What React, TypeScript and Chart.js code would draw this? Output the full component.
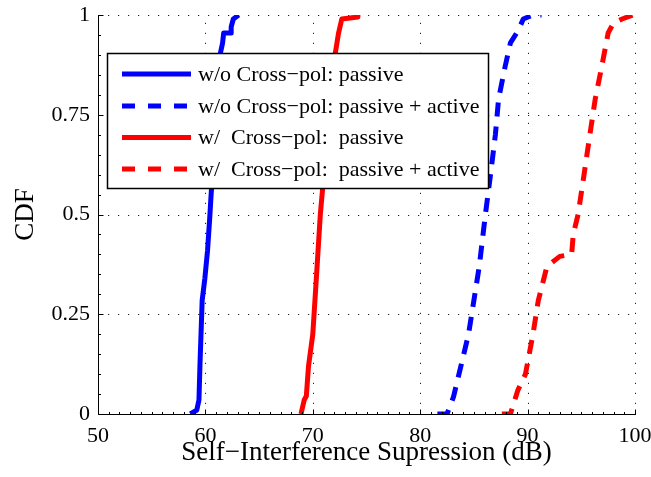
import React, { useEffect, useRef } from "react";
import { Chart, registerables } from "chart.js";

Chart.register(...registerables);

// ---- Data (x = suppression dB, y = CDF) ----
const blueSolidX = [58.6, 59.2, 59.4, 59.5, 59.7, 59.95, 60.2, 60.4, 60.5, 60.8, 61.1, 61.4, 61.6, 61.7, 62.4, 62.4, 62.6, 63.1];
const blueSolidY = [0, 0.01, 0.035, 0.128, 0.285, 0.34, 0.41, 0.49, 0.536, 0.66, 0.8, 0.905, 0.93, 0.955, 0.955, 0.97, 0.99, 1.0];

const blueDashX = [81.6, 82.5, 83.1, 83.7, 84.5, 85.0, 85.5, 85.85, 86.07, 86.5, 87.0, 87.3, 87.9, 88.4, 89.1, 89.6, 90.5, 91.3];
const blueDashY = [0, 0, 0.043, 0.11, 0.2, 0.285, 0.37, 0.45, 0.5, 0.59, 0.7, 0.79, 0.87, 0.93, 0.96, 0.99, 1.0, 1.0];

const redSolidX = [68.9, 69.2, 69.4, 69.6, 70.0, 70.4, 70.7, 70.9, 71.4, 71.8, 72.1, 72.4, 72.7, 74.2, 74.2];
const redSolidY = [0, 0.035, 0.045, 0.12, 0.2, 0.37, 0.5, 0.56, 0.7, 0.82, 0.905, 0.955, 0.99, 0.995, 1.0];

const redDashX = [87.6, 88.4, 89.1, 89.8, 90.5, 91.0, 91.8, 93.0, 94.1, 94.25, 94.7, 95.2, 95.8, 96.3, 96.9, 97.5, 98.0, 98.8, 99.8];
const redDashY = [0, 0, 0.06, 0.1, 0.2, 0.285, 0.37, 0.395, 0.4, 0.45, 0.5, 0.59, 0.7, 0.79, 0.87, 0.955, 0.98, 0.99, 1.0];

const seriesLabels = [
  "w/o Cross\u2212pol: passive",
  "w/o Cross\u2212pol: passive + active",
  "w/  Cross\u2212pol:  passive",
  "w/  Cross\u2212pol:  passive + active",
];
const xTicks = [50, 60, 70, 80, 90, 100];
const yTicks = [0, 0.25, 0.5, 0.75, 1];
const xTitle = "Self\u2212Interference Supression (dB)";
const yTitle = "CDF";

const BLUE = "#0000ff";
const RED = "#ff0000";
const FONT = "'Liberation Serif', 'Times New Roman', serif";

const toPts = (xs: number[], ys: number[]) => xs.map((x, i) => ({ x, y: ys[i] }));

const zeroPad = (s: any) => {
  s.paddingTop = 0;
  s.paddingBottom = 0;
  s.paddingLeft = 0;
  s.paddingRight = 0;
};

const axesPlugin = {
  id: "matlabAxes",
  beforeDatasetsDraw(chart: any) {
    const { ctx, chartArea: a, scales } = chart;
    const xs = scales.x, ys = scales.y;
    ctx.save();
    ctx.strokeStyle = "#222";
    ctx.lineWidth = 1;
    ctx.setLineDash([1.2, 8.8]);
    for (const v of xTicks) {
      if (v === 50) continue;
      const px = Math.round(xs.getPixelForValue(v)) + 0.5;
      ctx.beginPath();
      ctx.moveTo(px, a.bottom);
      ctx.lineTo(px, a.top);
      ctx.stroke();
    }
    for (const v of yTicks) {
      if (v === 0) continue;
      const py = Math.round(ys.getPixelForValue(v)) + 0.5;
      ctx.beginPath();
      ctx.moveTo(a.left, py);
      ctx.lineTo(a.right, py);
      ctx.stroke();
    }
    ctx.restore();
  },
  afterDatasetsDraw(chart: any) {
    const { ctx, chartArea: a, scales } = chart;
    const xs = scales.x, ys = scales.y;
    ctx.save();
    ctx.strokeStyle = "#000";
    ctx.lineWidth = 1;
    ctx.setLineDash([]);
    const L = Math.round(a.left) + 0.5;
    const B = Math.round(a.bottom) + 0.5;
    ctx.beginPath();
    ctx.moveTo(L, Math.round(a.top));
    ctx.lineTo(L, B);
    ctx.lineTo(Math.round(a.right) + 1, B);
    ctx.stroke();
    // x ticks (major + minor), inward
    for (let v = 50; v <= 100; v += 1) {
      const px = Math.round(xs.getPixelForValue(v)) + 0.5;
      const len = v % 10 === 0 ? 5 : 2.5;
      ctx.beginPath();
      ctx.moveTo(px, B);
      ctx.lineTo(px, B - len);
      ctx.stroke();
    }
    for (let k = 0; k <= 20; k++) {
      const v = k * 0.05;
      const py = Math.round(ys.getPixelForValue(v)) + 0.5;
      const len = k % 5 === 0 ? 5 : 2.5;
      ctx.beginPath();
      ctx.moveTo(L, py);
      ctx.lineTo(L + len, py);
      ctx.stroke();
    }
    // legend
    const bx = 107, by = 53, bw = 381, bh = 135;
    ctx.fillStyle = "#fff";
    ctx.fillRect(bx, by, bw, bh);
    ctx.strokeStyle = "#000";
    ctx.lineWidth = 1.5;
    ctx.strokeRect(bx + 0.5, by + 0.5, bw, bh);
    const rows = [74, 106, 137.5, 169];
    const colors = [BLUE, BLUE, RED, RED];
    const dashed = [false, true, false, true];
    ctx.font = `22px ${FONT}`;
    ctx.textBaseline = "middle";
    ctx.textAlign = "left";
    rows.forEach((ry, i) => {
      ctx.strokeStyle = colors[i];
      ctx.lineWidth = 5;
      ctx.setLineDash(dashed[i] ? [13, 13] : []);
      ctx.beginPath();
      ctx.moveTo(122, ry);
      ctx.lineTo(191, ry);
      ctx.stroke();
      ctx.setLineDash([]);
      ctx.fillStyle = "#000";
      ctx.fillText(seriesLabels[i], 198, ry + 1);
    });
    ctx.restore();
  },
};

export default function App() {
  const ref = useRef<HTMLCanvasElement | null>(null);
  useEffect(() => {
    document.body.style.margin = "0";
    const canvas = ref.current!;
    const mk = (label: string, xs: number[], ys: number[], color: string, dash: number[]) => ({
      label,
      data: toPts(xs, ys),
      borderColor: color,
      backgroundColor: color,
      borderWidth: 5,
      borderDash: dash,
      pointRadius: 0,
      fill: false,
      tension: 0,
      borderJoinStyle: "round" as const,
    });
    const chart = new Chart(canvas, {
      type: "line",
      data: {
        datasets: [
          mk(seriesLabels[0], blueSolidX, blueSolidY, BLUE, []),
          mk(seriesLabels[1], blueDashX, blueDashY, BLUE, [14, 10]),
          mk(seriesLabels[2], redSolidX, redSolidY, RED, []),
          mk(seriesLabels[3], redDashX, redDashY, RED, [14, 10]),
        ],
      },
      options: {
        animation: false,
        responsive: false,
        maintainAspectRatio: false,
        layout: { padding: { top: 15, right: 16, left: 0, bottom: 0 } },
        plugins: { legend: { display: false }, tooltip: { enabled: false } },
        scales: {
          x: {
            type: "linear",
            min: 50,
            max: 100,
            afterBuildTicks: (s: any) => {
              s.ticks = xTicks.map((v) => ({ value: v }));
            },
            afterFit: (s: any) => {
              s.height = 63;
              zeroPad(s);
            },
            grid: { display: false, drawTicks: false },
            border: { display: false },
            ticks: {
              color: "#000",
              font: { family: FONT, size: 22 },
              padding: 9,
              maxRotation: 0,
              autoSkip: false,
            },
            title: {
              display: true,
              text: xTitle,
              color: "#000",
              font: { family: FONT, size: 27 },
              padding: { top: 0, bottom: 8 },
            },
          },
          y: {
            type: "linear",
            min: 0,
            max: 1,
            afterBuildTicks: (s: any) => {
              s.ticks = yTicks.map((v) => ({ value: v }));
            },
            afterFit: (s: any) => {
              s.width = 98;
              zeroPad(s);
            },
            grid: { display: false, drawTicks: false },
            border: { display: false },
            ticks: {
              color: "#000",
              font: { family: FONT, size: 22 },
              padding: 8,
              autoSkip: false,
              callback: (v: any) => String(v),
            },
            title: {
              display: true,
              text: yTitle,
              color: "#000",
              font: { family: FONT, size: 27 },
              padding: { top: 10, bottom: 0 },
            },
          },
        },
      },
      plugins: [axesPlugin],
    });
    return () => chart.destroy();
  }, []);
  return (
    <div style={{ width: 651, height: 477, background: "#fff" }}>
      <canvas ref={ref} width={651} height={477} style={{ display: "block" }} />
    </div>
  );
}
